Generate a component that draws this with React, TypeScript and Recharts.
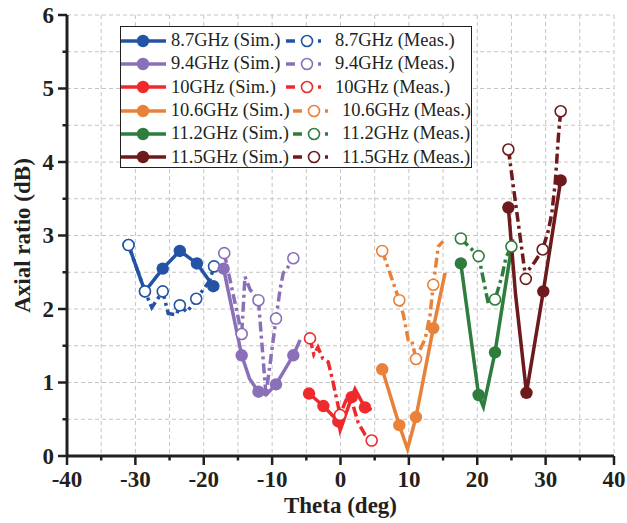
import React from 'react';
import { LineChart, Line, XAxis, YAxis, CartesianGrid } from 'recharts';

type P = { t: number; ar: number; m?: number };

// Frequencies / labels / colours
const freqLabels = ['8.7GHz', '9.4GHz', '10GHz', '10.6GHz', '11.2GHz', '11.5GHz'];
const colors = ['#2253a4', '#8a70b8', '#ee2a2c', '#e8823a', '#2e7d3e', '#6e1a1c'];

// Simulated (m = marker shown)
const sim87: P[] = [
  { t: -31, ar: 2.87, m: 1 }, { t: -28.6, ar: 2.24, m: 1 }, { t: -26, ar: 2.55, m: 1 },
  { t: -23.5, ar: 2.79, m: 1 }, { t: -21, ar: 2.62, m: 1 }, { t: -18.6, ar: 2.31, m: 1 },
];
const sim94: P[] = [
  { t: -17.1, ar: 2.55, m: 1 }, { t: -14.45, ar: 1.37, m: 1 }, { t: -13.3, ar: 1.05 },
  { t: -12.0, ar: 0.875, m: 1 }, { t: -10.9, ar: 0.83 }, { t: -9.43, ar: 0.975, m: 1 },
  { t: -6.9, ar: 1.37, m: 1 }, { t: -5.9, ar: 1.58 },
];
const sim100: P[] = [
  { t: -4.6, ar: 0.85, m: 1 }, { t: -2.5, ar: 0.68, m: 1 }, { t: -0.32, ar: 0.47, m: 1 },
  { t: -0.05, ar: 0.35 }, { t: 1.64, ar: 0.8, m: 1 }, { t: 2.12, ar: 0.91 },
  { t: 3.58, ar: 0.66, m: 1 }, { t: 4.56, ar: 0.63 },
];
const sim106: P[] = [
  { t: 6.1, ar: 1.18, m: 1 }, { t: 8.6, ar: 0.42, m: 1 }, { t: 9.8, ar: 0.095 },
  { t: 11.04, ar: 0.53, m: 1 }, { t: 13.57, ar: 1.74, m: 1 }, { t: 15.3, ar: 2.49 },
];
const sim112: P[] = [
  { t: 17.6, ar: 2.62, m: 1 }, { t: 20.2, ar: 0.83, m: 1 }, { t: 20.9, ar: 0.67 },
  { t: 22.6, ar: 1.41, m: 1 }, { t: 25.2, ar: 2.95 },
];
const sim115: P[] = [
  { t: 24.55, ar: 3.38, m: 1 }, { t: 25.6, ar: 2.2 }, { t: 27.2, ar: 0.86, m: 1 },
  { t: 29.66, ar: 2.24, m: 1 }, { t: 32.2, ar: 3.75, m: 1 },
];

// Measured
const meas87: P[] = [
  { t: -31, ar: 2.87, m: 1 }, { t: -28.6, ar: 2.24, m: 1 }, { t: -27.6, ar: 2.02 },
  { t: -26, ar: 2.24, m: 1 }, { t: -25.2, ar: 1.94 }, { t: -24.0, ar: 1.92 },
  { t: -23.5, ar: 2.05, m: 1 }, { t: -22.5, ar: 1.96 }, { t: -21.7, ar: 2.05 },
  { t: -21.1, ar: 2.14, m: 1 }, { t: -20.1, ar: 2.26 }, { t: -19.1, ar: 2.39 },
  { t: -18.5, ar: 2.58, m: 1 },
];
const meas94: P[] = [
  { t: -17.0, ar: 2.76, m: 1 }, { t: -14.45, ar: 1.66, m: 1 }, { t: -13.97, ar: 2.44 },
  { t: -13.2, ar: 2.26 }, { t: -12.0, ar: 2.12, m: 1 }, { t: -10.9, ar: 0.83 },
  { t: -9.43, ar: 1.87, m: 1 }, { t: -8.85, ar: 2.26 }, { t: -8.37, ar: 2.49 },
  { t: -7.6, ar: 2.58 }, { t: -6.9, ar: 2.69, m: 1 }, { t: -6.0, ar: 2.78 },
];
const meas100: P[] = [
  { t: -4.46, ar: 1.6, m: 1 }, { t: -3.9, ar: 1.38 }, { t: -3.3, ar: 1.48 },
  { t: -2.6, ar: 1.33 }, { t: -1.8, ar: 1.28 }, { t: -1.2, ar: 1.05 },
  { t: -0.5, ar: 0.75 }, { t: -0.07, ar: 0.56, m: 1 }, { t: 0.9, ar: 0.78 },
  { t: 1.9, ar: 0.67 }, { t: 2.6, ar: 0.45 }, { t: 3.6, ar: 0.29 },
  { t: 4.56, ar: 0.21, m: 1 },
];
const meas106: P[] = [
  { t: 6.1, ar: 2.79, m: 1 }, { t: 8.6, ar: 2.12, m: 1 }, { t: 9.2, ar: 1.92 },
  { t: 9.9, ar: 1.58 }, { t: 10.4, ar: 1.58 }, { t: 11.04, ar: 1.32, m: 1 },
  { t: 11.6, ar: 1.44 }, { t: 12.4, ar: 1.6 }, { t: 13.1, ar: 1.92 },
  { t: 13.57, ar: 2.33, m: 1 }, { t: 14.3, ar: 2.85 }, { t: 15.0, ar: 2.92 },
];
const meas112: P[] = [
  { t: 17.6, ar: 2.96, m: 1 }, { t: 20.2, ar: 2.72, m: 1 }, { t: 21.6, ar: 2.08 },
  { t: 22.6, ar: 2.13, m: 1 }, { t: 23.6, ar: 2.44 }, { t: 24.2, ar: 2.7 },
  { t: 25.0, ar: 2.85, m: 1 },
];
const meas115: P[] = [
  { t: 24.55, ar: 4.17, m: 1 }, { t: 27.1, ar: 2.41, m: 1 }, { t: 27.5, ar: 2.53 },
  { t: 28.4, ar: 2.64 }, { t: 29.57, ar: 2.81, m: 1 }, { t: 30.4, ar: 3.07 },
  { t: 30.9, ar: 3.3 }, { t: 31.4, ar: 3.71 }, { t: 31.9, ar: 4.39 },
  { t: 32.2, ar: 4.69, m: 1 },
];

const simSeries = [sim87, sim94, sim100, sim106, sim112, sim115];
const measSeries = [meas87, meas94, meas100, meas106, meas112, meas115];

const xTicks = [-40, -35, -30, -25, -20, -15, -10, -5, 0, 5, 10, 15, 20, 25, 30, 35, 40];
const yTicks = [0, 0.5, 1, 1.5, 2, 2.5, 3, 3.5, 4, 4.5, 5, 5.5, 6];

const FONT = '"Liberation Serif", "Times New Roman", serif';
const INK = '#231f20';
const DASH = '10 4 3 4';

const renderDot = (color: string, open: boolean) => (props: any) => {
  const { cx, cy, payload, index } = props;
  if (!payload || !payload.m || cx == null || cy == null) return <g key={`n-${index}`} />;
  return open ? (
    <circle key={`o-${index}`} cx={cx} cy={cy} r={5.5} fill="#fff" stroke={color} strokeWidth={1.6} />
  ) : (
    <circle key={`f-${index}`} cx={cx} cy={cy} r={6.2} fill={color} />
  );
};

const YTick = (props: any) => {
  const { x, y, payload } = props;
  const v = payload.value;
  const major = Number.isInteger(v);
  return (
    <g>
      <line x1={x - (major ? 9 : 4.5)} x2={x} y1={y} y2={y} stroke={INK} strokeWidth={2.5} />
      {major && (
        <text x={x - 13} y={y} dy="0.34em" textAnchor="end" fontFamily={FONT} fontWeight="bold" fontSize={23} fill={INK}>
          {v}
        </text>
      )}
    </g>
  );
};

const XTick = (props: any) => {
  const { x, y, payload } = props;
  const v = payload.value;
  const major = v % 10 === 0;
  return (
    <g>
      <line x1={x} x2={x} y1={y} y2={y + (major ? 9 : 4.5)} stroke={INK} strokeWidth={2.5} />
      {major && (
        <text x={x} y={y + 31} textAnchor="middle" fontFamily={FONT} fontWeight="bold" fontSize={23} fill={INK}>
          {v}
        </text>
      )}
    </g>
  );
};

const XTitle = (props: any) => {
  const vb = props.viewBox || { x: 67, y: 456, width: 547 };
  return (
    <text x={vb.x + vb.width / 2} y={vb.y + 57} textAnchor="middle" fontFamily={FONT} fontWeight="bold" fontSize={23} fill={INK}>
      Theta (deg)
    </text>
  );
};

const YTitle = (props: any) => {
  const vb = props.viewBox || { x: 0, y: 15, height: 441 };
  const cx = 22;
  const cy = vb.y + vb.height / 2;
  return (
    <text x={cx} y={cy} transform={`rotate(-90, ${cx}, ${cy})`} textAnchor="middle" dominantBaseline="central" fontFamily={FONT} fontWeight="bold" fontSize={23} fill={INK}>
      Axial ratio (dB)
    </text>
  );
};

const LegendBox = () => (
  <div
    style={{
      position: 'absolute', left: 120, top: 26, width: 352, height: 142,
      border: `1.5px solid ${INK}`, background: '#fff', boxSizing: 'border-box', paddingTop: 2,
    }}
  >
    {freqLabels.map((f, i) => (
      <div
        key={f}
        style={{
          display: 'flex', alignItems: 'center', height: 23.3, whiteSpace: 'nowrap',
          fontFamily: FONT, fontSize: 18.5, color: INK, lineHeight: '23px',
        }}
      >
        <svg width={45} height={16} style={{ display: 'block' }}>
          <line x1={0} x2={45} y1={8} y2={8} stroke={colors[i]} strokeWidth={3.5} />
          <circle cx={22} cy={8} r={6.2} fill={colors[i]} />
        </svg>
        <span style={{ marginLeft: 5, minWidth: 111, display: 'inline-block' }}>{f} (Sim.)</span>
        <svg width={38} height={16} style={{ display: 'block', marginLeft: 4 }}>
          <line x1={0} x2={9} y1={8} y2={8} stroke={colors[i]} strokeWidth={3.5} />
          <circle cx={21} cy={8} r={5.5} fill="#fff" stroke={colors[i]} strokeWidth={1.6} />
          <line x1={32} x2={35} y1={8} y2={8} stroke={colors[i]} strokeWidth={3.5} />
        </svg>
        <span style={{ marginLeft: 11 }}>{f} (Meas.)</span>
      </div>
    ))}
  </div>
);

export default function App() {
  return (
    <div style={{ position: 'absolute', left: 0, top: 0, width: 627, height: 523, background: '#fff' }}>
      <LineChart width={627} height={523} margin={{ top: 15, right: 13, bottom: 0, left: 0 }}>
        <CartesianGrid stroke="#c4c4c4" strokeDasharray="4 3" strokeWidth={1} />
        <XAxis
          dataKey="t"
          type="number"
          domain={[-40, 40]}
          ticks={xTicks}
          interval={0}
          height={67}
          tickSize={0}
          tickMargin={0}
          tickLine={false}
          tick={<XTick />}
          axisLine={{ stroke: INK, strokeWidth: 3 }}
          label={<XTitle />}
          allowDataOverflow
        />
        <XAxis
          xAxisId="top"
          orientation="top"
          type="number"
          domain={[-40, 40]}
          height={0}
          tick={false}
          tickLine={false}
          axisLine={{ stroke: INK, strokeWidth: 2 }}
        />
        <YAxis
          type="number"
          domain={[0, 6]}
          ticks={yTicks}
          interval={0}
          width={67}
          tickSize={0}
          tickMargin={0}
          tickLine={false}
          tick={<YTick />}
          axisLine={{ stroke: INK, strokeWidth: 3 }}
          label={<YTitle />}
          allowDataOverflow
        />
        <YAxis
          yAxisId="right"
          orientation="right"
          type="number"
          domain={[0, 6]}
          width={0}
          tick={false}
          tickLine={false}
          axisLine={{ stroke: INK, strokeWidth: 2 }}
        />
        {simSeries.flatMap((s, i) => [
          <Line
            key={`sim-${i}`}
            data={s}
            dataKey="ar"
            type="linear"
            stroke={colors[i]}
            strokeWidth={3.5}
            dot={renderDot(colors[i], false)}
            activeDot={false}
            isAnimationActive={false}
          />,
          <Line
            key={`meas-${i}`}
            data={measSeries[i]}
            dataKey="ar"
            type="linear"
            stroke={colors[i]}
            strokeWidth={3.5}
            strokeDasharray={DASH}
            dot={renderDot(colors[i], true)}
            activeDot={false}
            isAnimationActive={false}
          />,
        ])}
      </LineChart>
      <LegendBox />
    </div>
  );
}
